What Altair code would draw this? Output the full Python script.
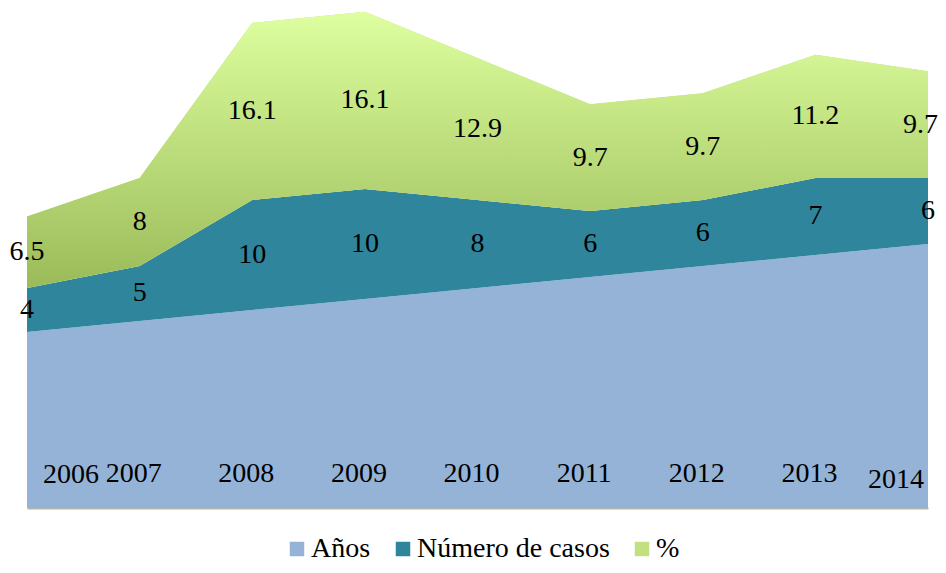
import altair as alt
import pandas as pd

years = [2006, 2007, 2008, 2009, 2010, 2011, 2012, 2013, 2014]
casos = [4, 5, 10, 10, 8, 6, 6, 7, 6]
pct = [6.5, 8, 16.1, 16.1, 12.9, 9.7, 9.7, 11.2, 9.7]
series_names = ["Años", "Número de casos", "%"]
series_colors = ["#95B3D7", "#2F859C", "#C2E07F"]

FONT = "Liberation Serif"

rows = []
for y, c, p in zip(years, casos, pct):
    base = y
    rows.append({"year": y, "series": "Años", "lo": 0, "hi": base, "label": f"{y}", "ord": 0})
    rows.append({"year": y, "series": "Número de casos", "lo": base, "hi": base + c, "label": f"{c:g}", "ord": 1})
    rows.append({"year": y, "series": "%", "lo": base + c, "hi": base + c + p, "label": f"{p:g}", "ord": 2})
df = pd.DataFrame(rows)
df["mid"] = (df["lo"] + df["hi"]) / 2

xs = alt.Scale(domain=[2006, 2014], nice=False, zero=False)
ys = alt.Scale(domain=[1990, 2035.45], nice=False, zero=False)

X = alt.X("year:Q", scale=xs,
          axis=alt.Axis(title=None, labels=False, ticks=False, grid=False,
                        domain=True, domainColor="#B4B4B4", domainWidth=2))

base = alt.Chart(df)

areas = base.mark_area(clip=True, interpolate="linear").encode(
    x=X,
    y=alt.Y("hi:Q", scale=ys, axis=None),
    y2="lo:Q",
    color=alt.Color("series:N",
                    scale=alt.Scale(domain=series_names, range=series_colors),
                    sort=series_names,
                    legend=alt.Legend(orient="none", legendX=256, legendY=527,
                                      direction="horizontal", title=None,
                                      symbolType="square", symbolSize=210,
                                      symbolStrokeWidth=0,
                                      labelFont=FONT, labelFontSize=28,
                                      labelColor="#000000", labelLimit=0,
                                      columnPadding=18, labelOffset=0)),
    order=alt.Order("ord:Q"),
)

gradient = {
    "gradient": "linear", "x1": 0, "y1": 0, "x2": 0, "y2": 1,
    "stops": [{"offset": 0, "color": "#DEFF9F"}, {"offset": 1, "color": "#9BBB59"}],
}
pct_area = base.transform_filter(alt.datum.series == "%").mark_area(
    clip=True, interpolate="linear", color=gradient
).encode(x=X, y=alt.Y("hi:Q", scale=ys, axis=None), y2="lo:Q")

txt = dict(font=FONT, fontSize=28, color="#000000", baseline="middle")

mid_labels = base.transform_filter(
    (alt.datum.series == "Número de casos")
    | ((alt.datum.series == "%") & (alt.datum.year < years[-1]))
).mark_text(align="center", **txt).encode(
    x=X, y=alt.Y("mid:Q", scale=ys, axis=None), text="label:N")

last_pct_label = base.transform_filter(
    (alt.datum.series == "%") & (alt.datum.year == years[-1])
).mark_text(align="right", dx=10, **txt).encode(
    x=X, y=alt.Y("mid:Q", scale=ys, axis=None), text="label:N")

year_first = base.transform_filter(
    (alt.datum.series == "Años") & (alt.datum.year == years[0])
).mark_text(align="left", dx=16, **txt).encode(x=X, y=alt.value(467), text="label:N")

year_last = base.transform_filter(
    (alt.datum.series == "Años") & (alt.datum.year == years[-1])
).mark_text(align="right", dx=-4, **txt).encode(x=X, y=alt.value(472), text="label:N")

year_mid = base.transform_filter(
    (alt.datum.series == "Años") & (alt.datum.year > years[0]) & (alt.datum.year < years[-1])
).mark_text(align="center", dx=-6, **txt).encode(x=X, y=alt.value(466), text="label:N")

chart = alt.layer(areas, pct_area, mid_labels, last_pct_label, year_first, year_last, year_mid).properties(
    width=901, height=500,
    autosize=alt.AutoSizeParams(type="none"),
    padding={"left": 19, "top": 0, "right": 10, "bottom": 56},
).configure_view(stroke=None)

chart.save("out.html", embed_options={"renderer": "svg", "actions": False})
